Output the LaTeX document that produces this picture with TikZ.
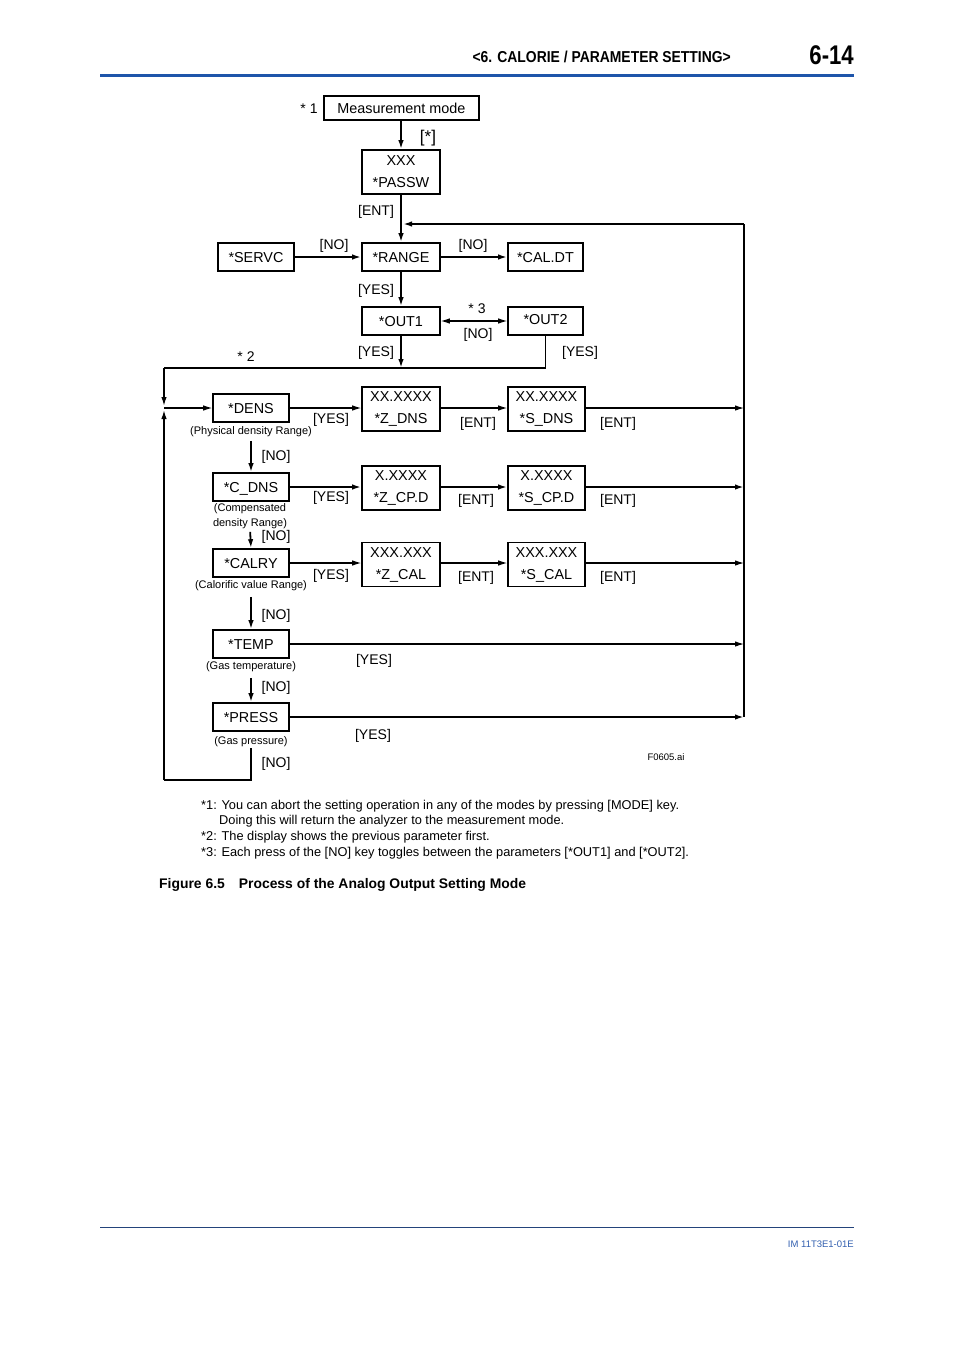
\documentclass[tikz,border=0pt]{standalone}
\usepackage{fontspec}
\setmainfont{Liberation Sans}
\usetikzlibrary{arrows.meta}
\definecolor{hdrblue}{RGB}{30,85,170}
\definecolor{ftblue}{RGB}{50,95,175}
\newcommand{\fsz}[2]{\fontsize{#1}{#2}\selectfont}
\begin{document}
\begin{tikzpicture}[x=1pt,y=-1pt,
  box/.style={draw, line width=1.6, minimum width=78, minimum height=28, inner sep=0, text height=10.3, text depth=0, font=\fsz{14.4}{17}},
  dbox/.style={box, minimum height=44, align=center, text height=, text depth=, font=\fsz{14.4}{22}},
  lbl/.style={font=\fsz{14}{16}, inner sep=0, yshift=-1.5},
  sm/.style={font=\fsz{11}{15}, inner sep=0, align=center, yshift=-1.5},
  note/.style={font=\fsz{12.8}{15}, inner sep=0, anchor=base west},
  arr/.style={-{Latex[length=9,width=5.5]}, line width=1.1},
  arrk/.style={arr, line width=1.8},
  ln/.style={line width=1.1},
  lnk/.style={line width=1.8},
]
\useasboundingbox (0,0) rectangle (954,1350);

% header
\node[font=\bfseries\fsz{15.8}{18}, inner sep=0, anchor=base east] (hdr) at (731,62.5) {\scalebox{0.88}[1]{<6. CALORIE / PARAMETER SETTING>}};
\node[font=\bfseries\fsz{27}{30}, inner sep=0, anchor=base east] (pg) at (854,64) {\scalebox{0.82}[1]{6-14}};
\draw[hdrblue, line width=3] (100,75) -- (854,75);
% footer
\draw[ftblue!70!black, line width=1] (100,1227) -- (854,1227);
\node[font=\fsz{9.5}{11}, text=ftblue, inner sep=0, anchor=base east] (im) at (854,1247) {IM 11T3E1-01E};

% boxes
\node[box, minimum width=155, minimum height=24] (mm) at (401.5,108) {Measurement mode};
\node[lbl] (s1) at (309,107) {* 1};
\node[dbox] (passw) at (401,172) {\raisebox{-1pt}{XXX}\\\raisebox{-1pt}{*PASSW}};
\node[box, minimum width=76] (servc) at (256,257) {*SERVC};
\node[box] (range) at (401,257) {*RANGE};
\node[box, minimum width=75] (caldt) at (545.5,257) {*CAL.DT};
\node[box] (out1) at (401,321) {*OUT1};
\node[box, minimum width=75] (out2) at (545.5,321) {\raisebox{2pt}{*OUT2}};

\node[box, minimum width=76] (dens) at (251,408) {*DENS};
\node[dbox] (zdns) at (401,409) {XX.XXXX\\*Z\_DNS};
\node[dbox, minimum width=77] (sdns) at (546.5,409) {XX.XXXX\\*S\_DNS};
\node[box, minimum width=76] (cdns) at (251,487) {*C\_DNS};
\node[dbox] (zcpd) at (401,488) {X.XXXX\\*Z\_CP.D};
\node[dbox, minimum width=77] (scpd) at (546.5,488) {X.XXXX\\*S\_CP.D};
\node[box, minimum width=76] (calry) at (251,563) {*CALRY};
\node[dbox] (zcal) at (401,564.5) {XXX.XXX\\*Z\_CAL};
\node[dbox, minimum width=77] (scal) at (546.5,564.5) {XXX.XXX\\*S\_CAL};
\node[box, minimum width=76] (temp) at (251,644) {*TEMP};
\node[box, minimum width=76] (press) at (251,717) {*PRESS};

% small labels
\node[sm] (densl) at (251,430) {(Physical density Range)};
\node[sm] (cdnsl) at (250,514.5) {(Compensated\\density Range)};
\node[sm] (calryl) at (251,584) {(Calorific value Range)};
\node[sm] (templ) at (251,665) {(Gas temperature)};
\node[sm] (pressl) at (251,740) {(Gas pressure)};
\node[font=\fsz{9.5}{11}, inner sep=0] (fid) at (666,757) {F0605.ai};

% coordinates
\coordinate (rt) at (744,224);
\coordinate (rb) at (744,717);
\coordinate (jn) at (403,224);
\coordinate (hl) at (164,368);
\coordinate (ljt) at (164,406);
\coordinate (lj) at (164,408);
\coordinate (ljb) at (164,410);
\coordinate (pn) at (251,748);
\coordinate (pb) at (251,780);
\coordinate (lb) at (164,780);

% connectors top
\draw[arrk] (passw.north |- mm.south) -- (passw.north);
\node[font=\fsz{17}{19}, inner sep=0] (star) at (428,138.5) {[*]};
\draw[arrk] (passw) -- (range);
\node[lbl] (ent0) at (376,210) {[ENT]};
\draw[ln] (rt) -- (rb);
\draw[arrk] (rt) -- (jn);
\draw[arrk] (servc) -- (range);
\node[lbl] (no1) at (334,244) {[NO]};
\draw[arrk] (range) -- (caldt);
\node[lbl] (no2) at (473,244) {[NO]};
\draw[arrk] (range) -- (out1);
\node[lbl] (yes1) at (376,289) {[YES]};
\draw[{Latex[length=9,width=5.5]}-{Latex[length=9,width=5.5]}, line width=1.1] (out1) -- (out2);
\node[lbl] (s3) at (477,307) {* 3};
\node[lbl] (no3) at (478,333) {[NO]};
\draw[arrk] (out1) -- (out1.south |- hl);
\node[lbl] (yes2) at (376,351) {[YES]};
\draw[lnk] (out2.south) |- (hl);
\draw[arr, line width=1.5] (hl) -- (ljt);
\node[lbl] (yes3) at (580,351) {[YES]};
\node[lbl] (s2) at (246,355) {* 2};

% DENS row
\draw[arr] (lj) -- (dens);
\draw[arr] (dens) -- (dens.east -| zdns.west);
\node[lbl] (y4) at (331,418) {[YES]};
\draw[arr] (zdns.east |- dens.east) -- (dens.east -| sdns.west);
\node[lbl] (e4) at (478,422) {[ENT]};
\draw[arr] (sdns.east |- dens.east) -- (dens.east -| rt);
\node[lbl] (e5) at (618,422) {[ENT]};
\draw[arrk, shorten <=4] (densl.south) -- (cdns.north);
\node[lbl] (n4) at (276,455) {[NO]};

% C_DNS row
\draw[arrk] (cdns) -- (cdns.east -| zcpd.west);
\node[lbl] (y5) at (331,496) {[YES]};
\draw[arrk] (zcpd.east |- cdns.east) -- (cdns.east -| scpd.west);
\node[lbl] (e6) at (476,499) {[ENT]};
\draw[arrk] (scpd.east |- cdns.east) -- (cdns.east -| rt);
\node[lbl] (e7) at (618,499) {[ENT]};
\draw[arrk, shorten <=3] (cdnsl.south) -- (calry.north);
\node[lbl] (n5) at (276,535) {[NO]};

% CALRY row
\draw[arr] (calry) -- (calry.east -| zcal.west);
\node[lbl] (y6) at (331,574) {[YES]};
\draw[arr] (zcal.east |- calry.east) -- (calry.east -| scal.west);
\node[lbl] (e8) at (476,576) {[ENT]};
\draw[arr] (scal.east |- calry.east) -- (calry.east -| rt);
\node[lbl] (e9) at (618,576) {[ENT]};
\draw[arrk, shorten <=6] (calryl.south) -- (temp.north);
\node[lbl] (n6) at (276,614) {[NO]};

% TEMP row
\draw[arr] (temp) -- (temp.east -| rt);
\node[lbl] (y7) at (374,659) {[YES]};
\draw[arrk, shorten <=6] (templ.south) -- (press.north);
\node[lbl] (n7) at (276,686) {[NO]};

% PRESS row
\draw[arrk] (press) -- (press.east -| rt);
\node[lbl] (y8) at (373,734) {[YES]};
\draw[lnk] (pn) -- (pb) -- (lb);
\draw[arr, line width=1.5] (lb) -- (ljb);
\node[lbl] (n8) at (276,762) {[NO]};

% notes
\node[note] (nt1) at (201,809.5) {*1: You can abort the setting operation in any of the modes by pressing [MODE] key.};
\node[note] (nt1b) at (219,824.5) {Doing this will return the analyzer to the measurement mode.};
\node[note] (nt2) at (201,840.5) {*2: The display shows the previous parameter first.};
\node[note] (nt3) at (201,856.5) {*3: Each press of the [NO] key toggles between the parameters [*OUT1] and [*OUT2].};
\node[note, font=\bfseries\fsz{13.9}{16}] (cap) at (159,888) {Figure 6.5\hspace{14pt}Process of the Analog Output Setting Mode};
\end{tikzpicture}
\end{document}
